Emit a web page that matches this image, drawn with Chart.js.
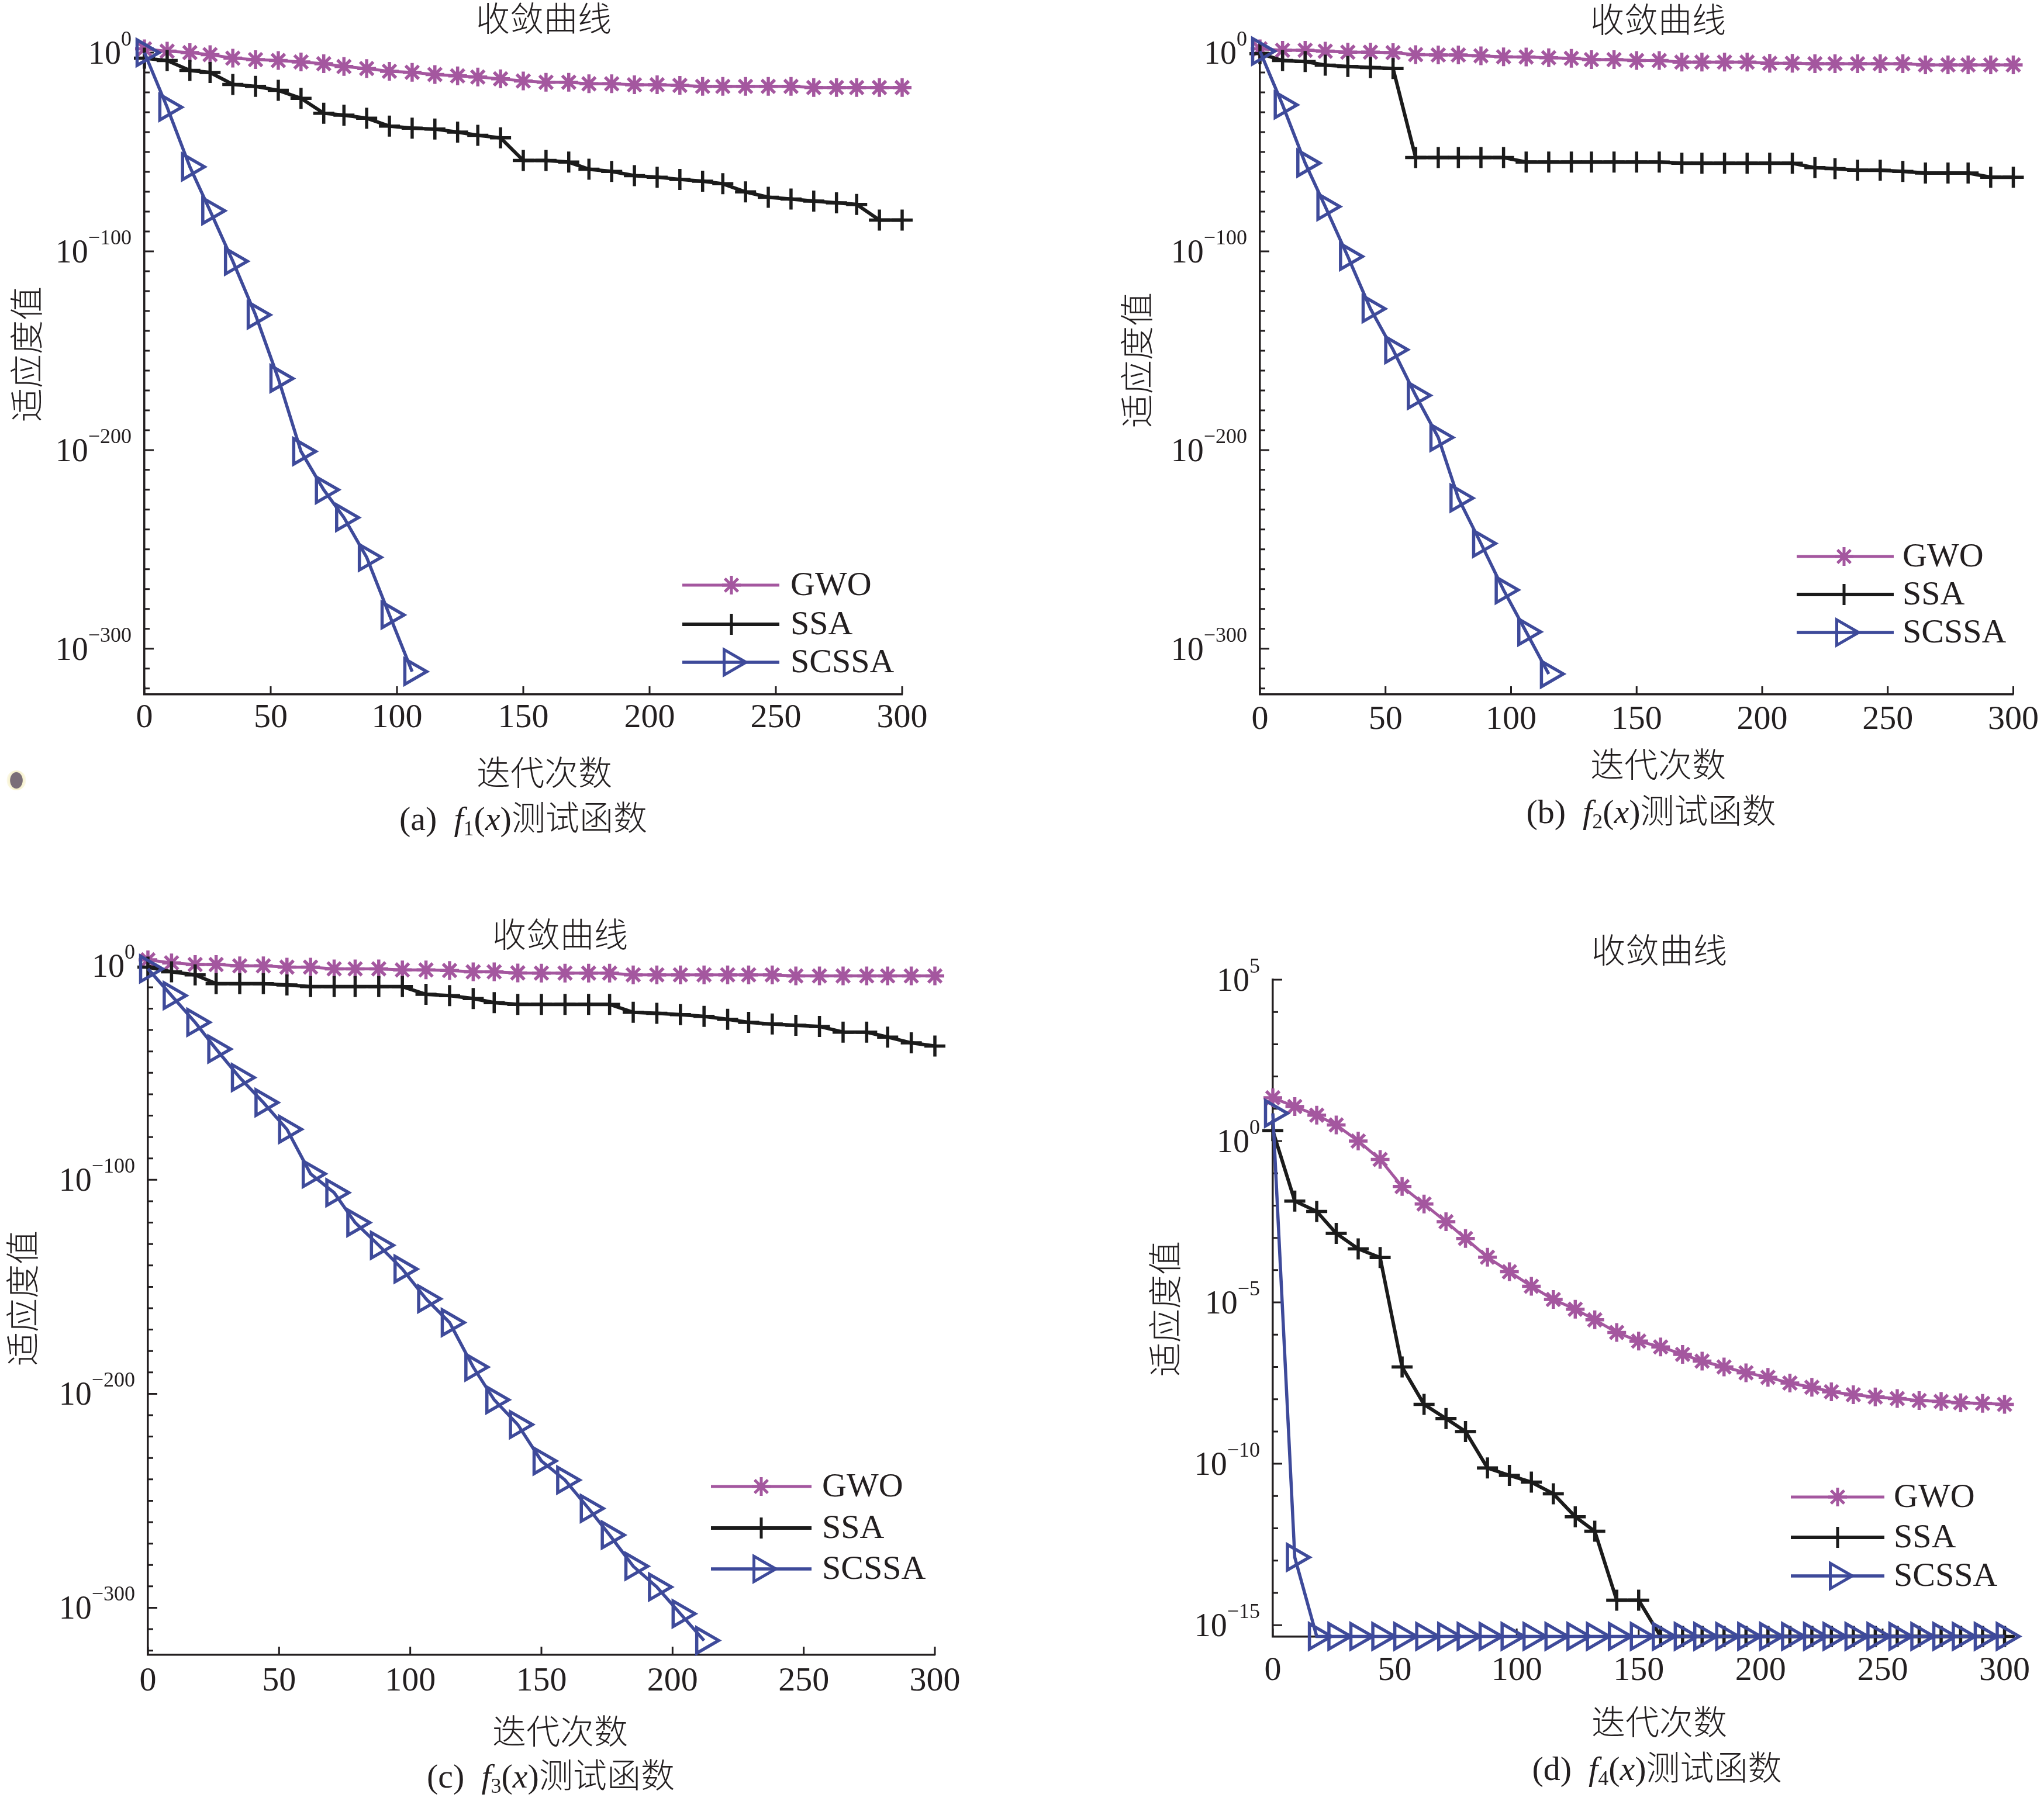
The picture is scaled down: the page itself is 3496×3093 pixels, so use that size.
<!DOCTYPE html>
<html>
<head>
<meta charset="utf-8">
<script src="https://cdn.jsdelivr.net/npm/chart.js@4.4.1/dist/chart.umd.min.js"></script>
<style>
  html, body { margin: 0; padding: 0; background: #fff; }
  #page { position: relative; width: 3496px; height: 3093px; overflow: hidden; background: #fff; }
  canvas { position: absolute; }
  .t { position: absolute; transform: translate(-50%, -50%); white-space: nowrap; color: #231f20;
       font-family: "Noto Sans CJK SC", sans-serif; font-weight: 300; font-size: 58px; line-height: 1; }
  .yl { transform: translate(-50%, -50%) rotate(-90deg); }
  .cap { font-family: "Liberation Serif", "Noto Sans CJK SC", serif; font-weight: 400; }
  .cap i { font-style: italic; }
  .cap sub { font-size: 0.62em; vertical-align: -0.25em; line-height: 0; }
  .cap span { font-weight: 300; }
  .dot { position: absolute; left: 11px; top: 1318px; width: 34px; height: 34px; border-radius: 50%;
         background: radial-gradient(ellipse 33% 43% at 50% 50%, #7a6e78 0 92%, #f6f1cc 100%, #fbf8e6 140%, rgba(255,255,255,0) 150%); }
</style>
</head>
<body>
<div id="page">
  <canvas id="ca" width="1748" height="1546" style="left:0;top:0"></canvas>
  <canvas id="cb" width="1748" height="1546" style="left:1748px;top:0"></canvas>
  <canvas id="cc" width="1748" height="1547" style="left:0;top:1546px"></canvas>
  <canvas id="cd" width="1748" height="1547" style="left:1748px;top:1546px"></canvas>

  <div class="t" style="left:930px;top:28px">收敛曲线</div>
  <div class="t yl" style="left:42px;top:606px">适应度值</div>
  <div class="t" style="left:931px;top:1318px">迭代次数</div>
  <div class="t cap" style="left:895px;top:1401px">(a)&nbsp;&nbsp;<i>f</i><sub>1</sub>(<i>x</i>)<span>测试函数</span></div>

  <div class="t" style="left:2836px;top:30px">收敛曲线</div>
  <div class="t yl" style="left:1941px;top:616px">适应度值</div>
  <div class="t" style="left:2836px;top:1304px">迭代次数</div>
  <div class="t cap" style="left:2824px;top:1389px">(b)&nbsp;&nbsp;<i>f</i><sub>2</sub>(<i>x</i>)<span>测试函数</span></div>

  <div class="t" style="left:958px;top:1595px">收敛曲线</div>
  <div class="t yl" style="left:35px;top:2221px">适应度值</div>
  <div class="t" style="left:958px;top:2958px">迭代次数</div>
  <div class="t cap" style="left:942px;top:3039px">(c)&nbsp;&nbsp;<i>f</i><sub>3</sub>(<i>x</i>)<span>测试函数</span></div>

  <div class="t" style="left:2838px;top:1622px">收敛曲线</div>
  <div class="t yl" style="left:1989px;top:2239px">适应度值</div>
  <div class="t" style="left:2838px;top:2942px">迭代次数</div>
  <div class="t cap" style="left:2834px;top:3026px">(d)&nbsp;&nbsp;<i>f</i><sub>4</sub>(<i>x</i>)<span>测试函数</span></div>

  <div class="dot"></div>
</div>
<script>
// iteration numbers where the curves are sampled (marker positions)
const iters = [0, 9, 18, 26, 35, 44, 53, 62, 71, 79, 88, 97, 106, 115, 124, 132, 141, 150,
  159, 168, 176, 185, 194, 203, 212, 221, 229, 238, 247, 256, 265, 274, 282, 291, 300];

// fitness values stored as log10 exponents (10^value)
const gwoF1 = [1.9, 0.7, 0, -1, -2.8, -3.5, -4, -4.7, -5.6, -7, -8, -9.4, -9.9, -11, -11.7, -12.3,
  -13.2, -14.3, -14.9, -14.9, -15.7, -15.7, -16.2, -16.2, -16.5, -17, -17, -17, -17, -17,
  -17.6, -17.6, -17.6, -17.6, -17.6];
const ssaF1 = [-2.8, -4, -9, -10, -16, -17, -19, -23, -30.5, -31.5, -33, -37, -38, -38.5, -40,
  -41.6, -42.9, -54.3, -54.3, -55.1, -58.7, -59.8, -61.9, -62.7, -63.8, -64.7, -66, -70.1,
  -72.8, -73.7, -74.7, -75.6, -76.4, -84.3, -84.3];
const scssaF1 = [0, -27.5, -57.5, -79.6, -105, -132, -164, -200.7, -220, -234, -254, -283, -311.5,
  null, null, null, null, null, null, null, null, null, null, null, null, null, null, null,
  null, null, null, null, null, null, null];

const gwoF2 = [1.9, 1.2, 1.2, 0.7, 0.2, 0.2, 0, -1, -1.2, -1.2, -1.6, -2.1, -2.2, -2.6, -2.9,
  -3.5, -3.5, -4, -4, -4.8, -4.8, -4.8, -4.8, -5.4, -5.4, -5.6, -5.6, -5.6, -5.6, -5.6,
  -6.2, -6.2, -6.2, -6.2, -6.2];
const ssaF2 = [-0.5, -4, -4.5, -6.3, -7, -7.5, -8, -52.8, -52.8, -52.8, -52.8, -52.8, -55.1,
  -55.1, -55.1, -55.1, -55.1, -55.1, -55.1, -55.7, -55.7, -55.7, -55.7, -55.7, -55.7, -57.9,
  -58.4, -59.2, -59.2, -59.8, -60.6, -60.6, -60.6, -62.7, -62.7];
const scssaF2 = [0.7, -26.3, -55.6, -77.5, -102.6, -128.9, -149.5, -172.5, -193.7, -224.2, -247,
  -270.4, -291.5, -312.7, null, null, null, null, null, null, null, null, null, null, null,
  null, null, null, null, null, null, null, null, null, null];

const gwoF3 = [2.8, 1.4, 0.6, 0.6, 0, 0, -0.6, -0.6, -1.4, -1.4, -1.4, -1.9, -1.9, -2.2, -2.8,
  -2.8, -3.3, -3.4, -3.4, -3.4, -3.4, -4.2, -4.2, -4.2, -4.2, -4.2, -4.2, -4.2, -4.7, -4.7,
  -4.7, -4.7, -4.7, -4.7, -4.7];
const ssaF3 = [-0.6, -2.8, -4.2, -8.3, -8.3, -8.3, -8.9, -9.7, -9.7, -9.7, -9.7, -9.7, -13.3,
  -13.9, -15.3, -17.2, -18, -18, -18, -18, -18, -21.7, -22.2, -22.8, -23.6, -25, -26.4,
  -27.2, -27.8, -28.3, -31, -31, -33.3, -36, -37.5];
const scssaF3 = [-1.4, -13.9, -26.4, -38.9, -52.2, -63.9, -76.4, -97.2, -106, -120, -130.6,
  -141.7, -155.6, -166.7, -187.5, -202.8, -214.4, -231.4, -240.3, -253.6, -266, -280.6,
  -290.3, -302.8, -315.3, null, null, null, null, null, null, null, null, null, null];

const gwoF4 = [1.34, 1.07, 0.8, 0.5, 0, -0.57, -1.41, -1.95, -2.5, -3.02, -3.6, -4.05, -4.5,
  -4.91, -5.21, -5.54, -5.93, -6.2, -6.38, -6.61, -6.82, -7, -7.18, -7.32, -7.5, -7.63,
  -7.77, -7.86, -7.93, -7.98, -8.04, -8.07, -8.11, -8.13, -8.16];
const ssaF4 = [0.32, -1.86, -2.18, -2.86, -3.34, -3.61, -7, -8.16, -8.6, -9, -10.13, -10.36,
  -10.57, -10.93, -11.64, -12.09, -14.23, -14.23, -15.35, -15.35, -15.35, -15.35, -15.35,
  -15.35, -15.35, -15.35, -15.35, -15.35, -15.35, -15.35, -15.35, -15.35, -15.35, -15.35, -15.35];
const scssaF4 = [0.86, -12.9, -15.35, -15.35, -15.35, -15.35, -15.35, -15.35, -15.35, -15.35,
  -15.35, -15.35, -15.35, -15.35, -15.35, -15.35, -15.35, -15.35, -15.35, -15.35, -15.35,
  -15.35, -15.35, -15.35, -15.35, -15.35, -15.35, -15.35, -15.35, -15.35, -15.35, -15.35,
  -15.35, -15.35, -15.35];

const seriesNames = ['GWO', 'SSA', 'SCSSA'];
const xTicks = [0, 50, 100, 150, 200, 250, 300];
const yTicksWide = [0, -100, -200, -300];
const yTicksF4 = [5, 0, -5, -10, -15];

const AXIS = '#231f20';
const colors = ['#a4579f', '#1b1b1b', '#3e4a9a'];
const lineWidths = [5, 6, 5.5];
const styles = ['star', 'cross', 'triangle'];
const radii = [16, 18, 25];
const SERIF = '"Liberation Serif", "Times New Roman", serif';

const panels = [
  { id: 'ca', box: [0, 0, 1748, 1546], area: [247, 73, 1543, 1188], yRange: [-323, 5],
    yMajor: yTicksWide, minorStep: 10, labelPad: 6, series: [gwoF1, ssaF1, scssaF1],
    legend: [1167, 1333, 1251, 1352, [1001, 1068, 1133]] },
  { id: 'cb', box: [1748, 0, 1748, 1546], area: [2155, 73, 3445, 1188], yRange: [-323, 5],
    yMajor: yTicksWide, minorStep: 10, labelPad: 9, series: [gwoF2, ssaF2, scssaF2],
    legend: [3073, 3239, 3154, 3254, [952, 1017, 1082]] },
  { id: 'cc', box: [0, 1546, 1748, 1547], area: [253, 1634, 1599, 2831], yRange: [-322, 5],
    yMajor: yTicksWide, minorStep: 10, labelPad: 11, series: [gwoF3, ssaF3, scssaF3],
    legend: [1216, 1388, 1302, 1406, [2543, 2614, 2684]] },
  { id: 'cd', box: [1748, 1546, 1748, 1547], area: [2177, 1676, 3437, 2800], yRange: [-15.36, 5],
    yMajor: yTicksF4, minorStep: 1, labelPad: 24, series: [gwoF4, ssaF4, scssaF4],
    legend: [3063, 3223, 3143, 3239, [2561, 2630, 2696]] },
];

function marker(ctx, style, x, y, r) {
  ctx.beginPath();
  if (style === 'star') {
    const d = Math.cos(Math.PI / 4) * r;
    ctx.moveTo(x - d, y - d); ctx.lineTo(x + d, y + d);
    ctx.moveTo(x - d, y + d); ctx.lineTo(x + d, y - d);
    ctx.moveTo(x - r, y); ctx.lineTo(x + r, y);
    ctx.moveTo(x, y - r); ctx.lineTo(x, y + r);
  } else if (style === 'cross') {
    ctx.moveTo(x - r, y); ctx.lineTo(x + r, y);
    ctx.moveTo(x, y - r); ctx.lineTo(x, y + r);
  } else {
    ctx.moveTo(x + r, y);
    ctx.lineTo(x - r / 2, y - r * 0.866);
    ctx.lineTo(x - r / 2, y + r * 0.866);
    ctx.closePath();
  }
  ctx.stroke();
}

// inward ticks, superscript y labels and the in-plot legend
const decor = {
  id: 'decor',
  beforeDatasetsDraw(chart, args, o) {
    const ctx = chart.ctx, a = chart.chartArea;
    const xs = chart.scales.x, ys = chart.scales.y;
    ctx.save();
    ctx.strokeStyle = AXIS;
    ctx.lineWidth = 3;
    ctx.beginPath();
    for (const v of xTicks) {
      const px = xs.getPixelForValue(v);
      ctx.moveTo(px, a.bottom);
      ctx.lineTo(px, a.bottom - 14);
    }
    for (let v = Math.ceil(ys.min / o.minorStep) * o.minorStep; v <= ys.max; v += o.minorStep) {
      const py = ys.getPixelForValue(v);
      ctx.moveTo(a.left, py);
      ctx.lineTo(a.left + (o.yMajor.includes(v) ? 16 : 9), py);
    }
    ctx.stroke();
    ctx.restore();
  },
  afterDraw(chart, args, o) {
    const ctx = chart.ctx, a = chart.chartArea, ys = chart.scales.y;
    ctx.save();
    ctx.fillStyle = AXIS;
    ctx.textAlign = 'left';
    ctx.textBaseline = 'alphabetic';
    for (const v of o.yMajor) {
      const py = ys.getPixelForValue(v);
      const exp = v < 0 ? '\u2212' + (-v) : String(v);
      ctx.font = '56px ' + SERIF;
      const bw = ctx.measureText('10').width;
      ctx.font = '36px ' + SERIF;
      const ew = ctx.measureText(exp).width;
      const right = a.left - 22;
      ctx.font = '56px ' + SERIF;
      ctx.fillText('10', right - ew - bw, py + 19);
      ctx.font = '36px ' + SERIF;
      ctx.fillText(exp, right - ew, py - 12);
    }
    const [x1, x2, mx, tx, rows] = o.legend;
    const ox = o.box[0], oy = o.box[1];
    rows.forEach((ry, i) => {
      const y = ry - oy;
      ctx.strokeStyle = colors[i];
      ctx.lineWidth = lineWidths[i];
      ctx.beginPath();
      ctx.moveTo(x1 - ox, y);
      ctx.lineTo(x2 - ox, y);
      ctx.stroke();
      ctx.lineWidth = 5;
      marker(ctx, styles[i], mx - ox, y, radii[i]);
      ctx.fillStyle = AXIS;
      ctx.font = '58px ' + SERIF;
      ctx.textBaseline = 'middle';
      ctx.fillText(seriesNames[i], tx - ox, y + 2);
    });
    ctx.restore();
  }
};

function dataset(values, i) {
  return {
    label: seriesNames[i],
    data: iters.map((x, k) => ({ x, y: values[k] })),
    borderColor: colors[i],
    borderWidth: lineWidths[i],
    pointStyle: styles[i],
    pointRadius: radii[i],
    pointHoverRadius: radii[i],
    pointBorderColor: colors[i],
    pointBackgroundColor: 'rgba(0,0,0,0)',
    pointBorderWidth: 5.5,
    pointRotation: i === 2 ? 90 : 0,
    order: 3 - i,
    clip: false,
    tension: 0,
  };
}

const X_AXIS_H = 90;

for (const p of panels) {
  const [bx, by, bw, bh] = p.box;
  const [l, t, r, b] = p.area;
  new Chart(document.getElementById(p.id), {
    type: 'line',
    data: { datasets: p.series.map((s, i) => dataset(s, i)) },
    options: {
      responsive: false,
      animation: false,
      devicePixelRatio: 1,
      events: [],
      layout: {
        autoPadding: false,
        padding: { left: l - bx, top: t - by, right: bx + bw - r, bottom: by + bh - b - X_AXIS_H },
      },
      plugins: {
        legend: { display: false },
        tooltip: { enabled: false },
        decor: { yMajor: p.yMajor, minorStep: p.minorStep, legend: p.legend, box: p.box },
      },
      scales: {
        x: {
          type: 'linear', min: 0, max: 300,
          afterFit: (s) => { s.height = X_AXIS_H; },
          grid: { display: false, drawTicks: false },
          border: { display: true, color: AXIS, width: 3.5 },
          ticks: { stepSize: 50, color: AXIS, padding: p.labelPad, maxRotation: 0,
                   font: { family: SERIF, size: 58 } },
        },
        y: {
          type: 'linear', min: p.yRange[0], max: p.yRange[1],
          afterFit: (s) => { s.width = 0; },
          grid: { display: false, drawTicks: false },
          border: { display: true, color: AXIS, width: 3.5 },
          ticks: { display: false },
        },
      },
    },
    plugins: [decor],
  });
}
</script>
</body>
</html>
